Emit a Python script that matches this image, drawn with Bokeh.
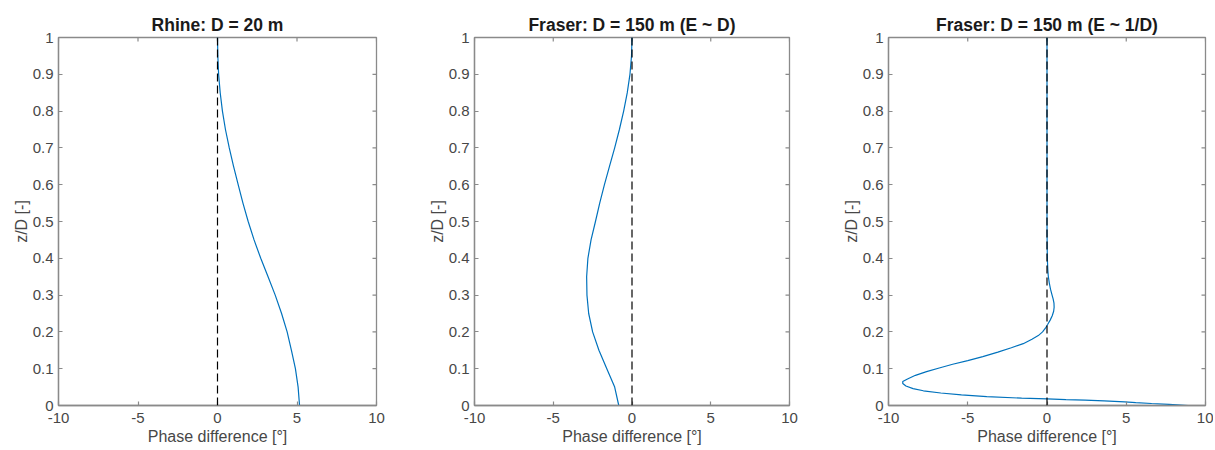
import math
from bokeh.plotting import figure
from bokeh.models import FixedTicker, Span
from bokeh.layouts import row
from bokeh.embed import file_html
from bokeh.resources import INLINE

# ---------------- data ----------------
titles = ["Rhine: D = 20 m", "Fraser: D = 150 m (E ~ D)", "Fraser: D = 150 m (E ~ 1/D)"]
x_label = "Phase difference [°]"
y_label = "z/D [-]"

x_ticks = [-10, -5, 0, 5, 10]
x_tick_labels = ["-10", "-5", "0", "5", "10"]
y_ticks = [0, 0.1, 0.2, 0.3, 0.4, 0.5, 0.6, 0.7, 0.8, 0.9, 1]
y_tick_labels = ["0", "0.1", "0.2", "0.3", "0.4", "0.5", "0.6", "0.7", "0.8", "0.9", "1"]

rhine_z = [0, 0.05, 0.1, 0.15, 0.2, 0.25, 0.3, 0.35, 0.4, 0.45, 0.5,
           0.55, 0.6, 0.65, 0.7, 0.75, 0.8, 0.85, 0.9, 0.95, 1.0]
rhine_phase = [5.16, 5.07, 4.9, 4.65, 4.38, 4.03, 3.63, 3.18, 2.72, 2.3, 1.93,
               1.6, 1.3, 1.01, 0.74, 0.5, 0.31, 0.17, 0.07, 0.02, 0.0]

fraser_d_z = [0, 0.05, 0.1, 0.15, 0.2, 0.25, 0.3, 0.35, 0.4, 0.45, 0.5,
              0.55, 0.6, 0.65, 0.7, 0.75, 0.8, 0.85, 0.9, 0.95, 1.0]
fraser_d_phase = [-0.84, -1.1, -1.6, -2.1, -2.5, -2.75, -2.86, -2.88, -2.8, -2.6, -2.32,
                  -2.05, -1.75, -1.43, -1.1, -0.8, -0.53, -0.3, -0.13, -0.03, 0.0]

fraser_inv_z = [0, 0.003, 0.0055, 0.008, 0.01, 0.0125, 0.0145, 0.016, 0.018, 0.02,
                0.024, 0.029, 0.034, 0.04, 0.046, 0.053, 0.06, 0.065, 0.072, 0.082,
                0.092, 0.102, 0.112, 0.122, 0.133, 0.145, 0.157, 0.168, 0.18, 0.19,
                0.2, 0.21, 0.22, 0.232, 0.244, 0.256, 0.267, 0.278, 0.289, 0.3,
                0.316, 0.334, 0.352, 0.37, 0.39, 0.42, 0.46, 0.5, 0.6, 0.7, 0.8, 0.9, 1.0]
fraser_inv_phase = [8.9, 7.7, 6.6, 5.6, 4.9, 3.6, 2.4, 1.2, 0.0, -1.6,
                    -3.8, -5.4, -6.7, -7.8, -8.45, -8.9, -9.1, -9.1, -8.8, -8.3,
                    -7.6, -6.8, -5.95, -5.0, -4.05, -3.1, -2.25, -1.5, -0.95, -0.55,
                    -0.28, -0.1, 0.04, 0.2, 0.33, 0.42, 0.45, 0.44, 0.39, 0.32,
                    0.22, 0.14, 0.08, 0.05, 0.03, 0.015, 0.005, 0.0, 0.0, 0.0, 0.0, 0.0, 0.0]

series = [(rhine_phase, rhine_z), (fraser_d_phase, fraser_d_z), (fraser_inv_phase, fraser_inv_z)]

# ---------------- style ----------------
FONT = "Liberation Sans"
AXIS_COLOR = "#8a8a8a"
TEXT_COLOR = "#474747"
TITLE_COLOR = "#1a1a1a"
LINE_COLOR = "#0072BD"
FRAME_H = 368
TICK_FS = "15px"
LABEL_FS = "16px"
TITLE_FS = "17.5px"

# (min_border_left, frame_width, min_border_right)
geometry = [(58, 318, 37), (61, 315, 29), (70, 317, 8)]


def style_axis(ax):
    ax.axis_line_color = AXIS_COLOR
    ax.axis_line_width = 1.3
    ax.major_tick_line_color = AXIS_COLOR
    ax.major_tick_line_width = 1.2
    ax.major_tick_in = 4
    ax.major_tick_out = 0
    ax.minor_tick_line_color = None
    ax.major_label_text_font = FONT
    ax.major_label_text_color = TEXT_COLOR
    ax.major_label_text_font_size = TICK_FS
    ax.axis_label_text_font = FONT
    ax.axis_label_text_font_size = LABEL_FS
    ax.axis_label_text_font_style = "normal"
    ax.axis_label_text_color = TEXT_COLOR


figs = []
for title, (xs, zs), (bl, fw, br) in zip(titles, series, geometry):
    p = figure(frame_width=fw, frame_height=FRAME_H,
               x_range=(x_ticks[0], x_ticks[-1]), y_range=(y_ticks[0], y_ticks[-1]),
               min_border_left=bl, min_border_right=br,
               min_border_top=37, min_border_bottom=45,
               toolbar_location=None, output_backend="svg", title=title)
    p.title.align = "center"
    p.title.text_font = FONT
    p.title.text_font_size = TITLE_FS
    p.title.text_font_style = "bold"
    p.title.text_color = TITLE_COLOR
    p.title.standoff = 6
    p.grid.visible = False
    p.outline_line_color = AXIS_COLOR
    p.outline_line_width = 1.3
    p.background_fill_color = "white"
    p.border_fill_color = "white"

    xa = p.xaxis[0]
    xa.ticker = FixedTicker(ticks=x_ticks)
    xa.major_label_overrides = dict(zip(x_ticks, x_tick_labels))
    style_axis(xa)
    xa.major_label_standoff = 7
    xa.axis_label = x_label
    xa.axis_label_standoff = 2

    ya = p.yaxis[0]
    ya.ticker = FixedTicker(ticks=y_ticks)
    ya.major_label_overrides = dict(zip(y_ticks, y_tick_labels))
    style_axis(ya)
    ya.major_label_standoff = 5
    ya.axis_label = y_label
    ya.axis_label_standoff = 0

    # inward ticks on the top and right edges of the box (clipped to the frame)
    p.scatter(x=x_ticks, y=[y_ticks[-1]] * len(x_ticks), marker="dash", angle=math.pi / 2,
              size=8, line_color=AXIS_COLOR, line_width=1.2)
    p.scatter(x=[x_ticks[-1]] * len(y_ticks), y=y_ticks, marker="dash",
              size=8, line_color=AXIS_COLOR, line_width=1.2)

    p.add_layout(Span(location=0, dimension="height", line_color="black",
                      line_dash="8 4", line_width=1.2))
    p.line(xs, zs, line_color=LINE_COLOR, line_width=1.2)
    figs.append(p)

layout = row(*figs)
open("out.html", "w").write(file_html(layout, INLINE))
